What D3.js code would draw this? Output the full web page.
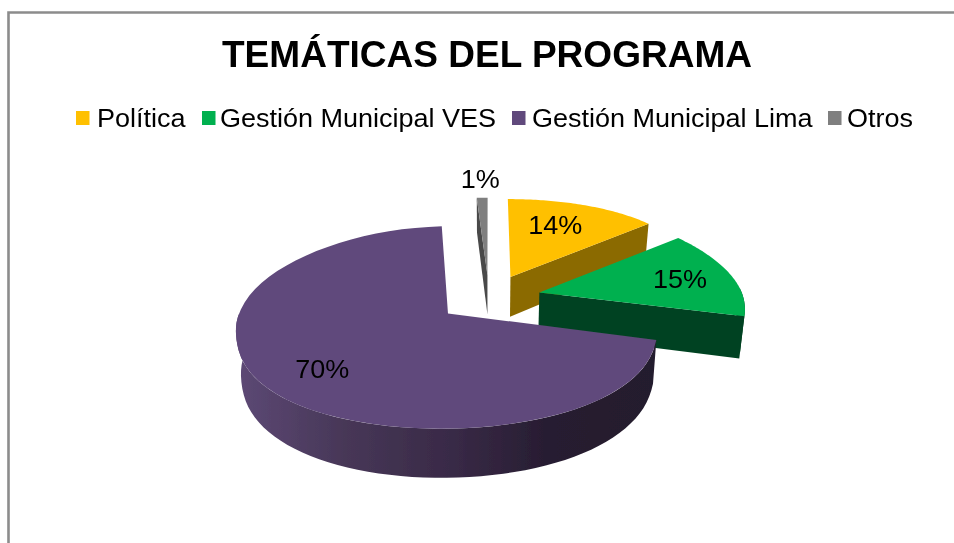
<!DOCTYPE html>
<html><head><meta charset="utf-8">
<script src="https://cdn.jsdelivr.net/npm/d3@7/dist/d3.min.js"></script>
<style>html,body{margin:0;padding:0;background:#fff}svg{display:block}text{font-family:"Liberation Sans",Arial,sans-serif;fill:#000}</style>
</head><body><svg id="c" width="954" height="543"></svg>
<script>
const categories = ["Política","Gestión Municipal VES","Gestión Municipal Lima","Otros"];
const values = [14,15,70,1];
const labels = ["14%","15%","70%","1%"];
const topColors = ["#FFC000","#00B050","#604A7B","#7F7F7F"];
const wallColors = ["#8B6A00","#024321","url(#wall)","#4A4A4A"];
const labelRadius = [0.72,0.74,0.76,1.2];
const labelDx = [-9,-1,9,-1];
const labelDy = [4.5,3,2,-6];
const legendSwatchX = [76,202,512,828];
const legendTextX = [97,220,532,847];
const drawOrder = [3,0,1,2];

const W=954,H=543, cx=489, cy=298, R=204, explode=52, p=0.0007, T=41, baseShrink=0.98, stretch=1.08;
const svg=d3.select("#c");
const defs=svg.append("defs");
const g=defs.append("linearGradient").attr("id","wall").attr("gradientUnits","userSpaceOnUse")
  .attr("x1",240).attr("x2",660).attr("y1",0).attr("y2",0);
[[0,"#5C4874"],[0.25,"#473757"],[0.5,"#392A47"],[0.75,"#261C30"],[1,"#241A2D"]].forEach(s=>g.append("stop").attr("offset",s[0]).attr("stop-color",s[1]));
defs.append("filter").attr("id","soft").append("feGaussianBlur").attr("stdDeviation",0.4);

svg.append("path").attr("d",`M8.5,${H}V12.5H${W}`).attr("fill","none").attr("stroke","#8C8C8C").attr("stroke-width",2.6);

const pie=d3.pie().sort(null).value(d=>d)(values);
function project(d,a,r,base){
  const mid=(d.startAngle+d.endAngle)/2;
  const X=explode*Math.sin(mid)+r*Math.sin(a), Y=-explode*Math.cos(mid)-r*Math.cos(a);
  const s=1/(1-p*Y);
  const far=Math.min(0,Y+150);
  const yOff=0.485*Y+0.075*(Math.sqrt(Y*Y+900)-30)+0.0006*far*far-4*Math.exp(-Math.pow((Y-65)/35,2));
  return [cx+X*s*(base?baseShrink:1), cy+yOff+(base?T*s:0)];
}
const line=d3.line();
const arcAngles=(a0,a1)=>d3.range(0,61).map(i=>a0+(a1-a0)*i/60);
const marks=svg.append("g").attr("filter","url(#soft)");

drawOrder.forEach(i=>{
  const d=pie[i], a0=d.startAngle, a1=d.endAngle, G=marks.append("g");
  const wall=wallColors[i];
  if(i===2||i===1){
    const lo=Math.max(a0,Math.PI/2-0.05), hi=Math.min(a1,Math.PI*1.5);
    const as=arcAngles(lo,hi);
    G.append("path").attr("fill",wall).attr("d",line(as.map(a=>project(d,a,R,false)).concat(as.slice().reverse().map(a=>project(d,a,R,true))))+"Z");
  }
  const faceA = i===3 ? a0 : a1;
  if(i!==2){
    G.append("path").attr("fill",wall).attr("d",line([project(d,faceA,0,false),project(d,faceA,R,false),project(d,faceA,R,true),project(d,faceA,0,true)])+"Z");
  }
  const as=arcAngles(a0,a1);
  G.append("path").attr("fill",topColors[i]).attr("d",line([project(d,a0,0,false)].concat(as.map(a=>project(d,a,R,false))))+"Z");
});

const texts=svg.append("g").attr("filter","url(#soft)");
function stretched(sel){ sel.attr("textLength",function(){return this.getComputedTextLength()*stretch;}).attr("lengthAdjust","spacingAndGlyphs"); return sel; }

values.forEach((v,i)=>{
  const d=pie[i], m=(d.startAngle+d.endAngle)/2, q=project(d,m,R*labelRadius[i],false);
  stretched(texts.append("text").attr("x",q[0]+labelDx[i]).attr("y",q[1]+labelDy[i]).attr("text-anchor","middle").attr("dominant-baseline","middle").attr("font-size",25).text(labels[i]));
});

texts.append("text").attr("x",487).attr("y",67).attr("text-anchor","middle").attr("font-size",36).attr("font-weight","bold").attr("textLength",530).attr("lengthAdjust","spacingAndGlyphs").text("TEMÁTICAS DEL PROGRAMA");

categories.forEach((c,i)=>{
  marks.append("rect").attr("x",legendSwatchX[i]).attr("y",111).attr("width",13.5).attr("height",14).attr("fill",topColors[i]);
  stretched(texts.append("text").attr("x",legendTextX[i]).attr("y",127).attr("font-size",25).text(c));
});
</script></body></html>
